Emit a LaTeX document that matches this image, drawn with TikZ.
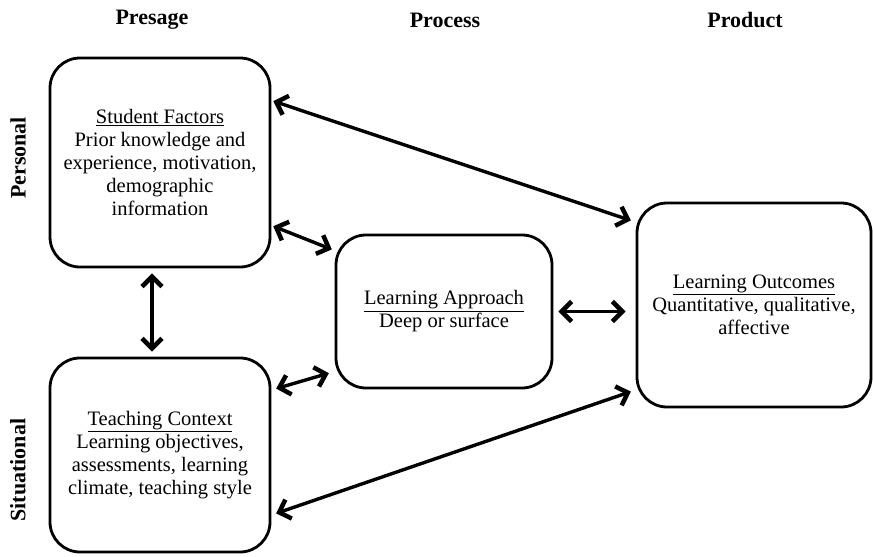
\documentclass[tikz,border=0pt]{standalone}
\usepackage{fontspec}
\setmainfont{Liberation Serif}
\usetikzlibrary{arrows.meta}
\begin{document}
\begin{tikzpicture}[x=1pt,y=-1pt]
	\tikzstyle{box} = [draw,line width=2.8pt,rounded corners=30pt,align=center,font=\fontsize{20.5}{23}\selectfont,inner sep=0pt]
	\tikzstyle{head} = [font=\fontsize{22}{24}\selectfont\bfseries]
	\tikzstyle{dbl} = [line width=3.4pt,{Straight Barb[length=10pt,width=20pt,line width=4.5pt]}-{Straight Barb[length=10pt,width=20pt,line width=4.5pt]}]
	\useasboundingbox (0,0) rectangle (873,557);
	
	\node[head](presage)at (152,20){Presage};
	\node[head](process)at (445,20){Process};
	\node[head](product)at (745,20){Product};
	\node[head,rotate=90](personal)at (18,158){Personal};
	\node[head,rotate=90](situational)at (18,470){Situational};
	
	\node[box,minimum width=220,minimum height=209](sf)at (160,162.5){\underline{Student Factors}\\Prior knowledge and\\experience, motivation,\\demographic\\information};
	\node[box,minimum width=220,minimum height=194](tc)at (160,455){\underline{Teaching Context}\\Learning objectives,\\assessments, learning\\climate, teaching style};
	\node[box,minimum width=216,minimum height=153](la)at (444,311.5){\underline{Learning Approach}\\Deep or surface};
	\node[box,minimum width=234,minimum height=204](lo)at (754,305){\underline{Learning Outcomes}\\Quantitative, qualitative,\\affective};
	
	\draw[dbl,shorten <=2pt,shorten >=5pt] ([yshift=62]sf.east) -- ([yshift=83]lo.west);
	\draw[dbl,shorten <=2pt,shorten >=3pt] ([yshift=-63]sf.east) -- ([yshift=61]la.west);
	\draw[dbl,shorten <=5pt,shorten >=5pt] ([xshift=-8]sf.south) -- ([xshift=-8]tc.north);
	\draw[dbl,shorten <=5pt,shorten >=6pt] ([yshift=65]tc.east) -- ([yshift=-60]la.west);
	\draw[dbl,shorten <=5pt,shorten >=10pt] (la.east) -- (la.east -| lo.west);
	\draw[dbl,shorten <=5pt,shorten >=5pt] ([yshift=-60]tc.east) -- ([yshift=-85]lo.west);
	
\end{tikzpicture}
\end{document}
